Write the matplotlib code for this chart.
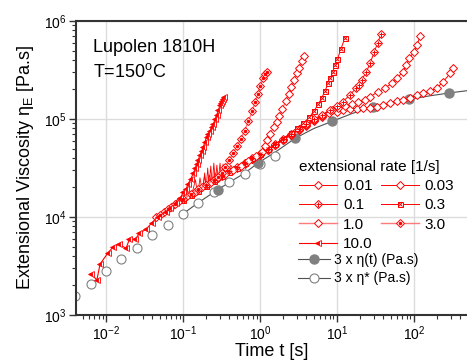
import numpy as np
import matplotlib.pyplot as plt
from matplotlib.lines import Line2D
from matplotlib.legend_handler import HandlerTuple

plt.rcParams['font.family'] = ['Liberation Sans', 'DejaVu Sans']
plt.rcParams['mathtext.fontset'] = 'custom'
plt.rcParams['mathtext.rm'] = 'Liberation Sans'
plt.rcParams['mathtext.it'] = 'Liberation Sans:italic'

# ---- data (t in s, eta in Pa.s) ----
t_001 = [0.631, 0.794, 1.0, 1.259, 1.585, 1.995, 2.512, 3.162, 3.981, 5.012, 6.31, 7.94, 9.91, 12.1,
         14.8, 18.0, 22.0, 26.9, 32.8, 39.9, 48.8, 59.6, 72.6, 88.7, 108, 132, 161, 197, 240, 294, 324]
e_001 = [34700, 38900, 43200, 47900, 53700, 61000, 68400, 76700, 85100, 94400, 105000, 114000, 119000, 124000,
         126000, 126000, 129000, 131000, 134000, 139000, 145000, 154000, 156000, 163000, 176000, 183000, 193000,
         206000, 240000, 292000, 329000]

t_003 = [0.501, 0.631, 0.794, 1.0, 1.259, 1.585, 1.995, 2.512, 3.162, 3.981, 5.012, 6.31, 8.53, 10.4, 12.7,
         15.5, 18.9, 23.1, 26.9, 34.4, 42.0, 51.3, 60.7, 71.3, 79.4, 86.9, 100, 109.6, 120.8]
e_003 = [31600, 35500, 39400, 43700, 48400, 54300, 61700, 69200, 77600, 87100, 97700, 108000, 124000, 129000,
         136000, 142000, 150000, 156000, 169000, 190000, 206000, 231000, 260000, 304000, 355000, 416000, 486000,
         575000, 708000]

t_01 = [0.2, 0.251, 0.316, 0.398, 0.501, 0.631, 0.794, 1.0, 1.259, 1.585, 1.995, 2.512, 3.162, 3.981, 5.012,
        6.31, 8.11, 9.91, 11.86, 14.76, 17.66, 19.5, 20.9, 24.0, 26.9, 30.5, 33.9, 37.2]
e_01 = [21400, 23700, 26300, 29200, 32400, 35900, 39800, 44200, 49500, 55600, 63100, 70800, 79400, 89100, 100000,
        110000, 124000, 136000, 150000, 176000, 206000, 224000, 250000, 302000, 370000, 486000, 603000, 736000]

t_03 = [0.1, 0.126, 0.158, 0.2, 0.251, 0.316, 0.398, 0.501, 0.631, 0.794, 1.0, 1.259, 1.585, 1.995, 2.512,
        3.02, 3.648, 4.365, 5.07, 5.69, 6.32, 7.0, 7.71, 8.22, 8.79, 9.44, 10.1, 11.2, 12.6]
e_03 = [14800, 16600, 18600, 20900, 23400, 26300, 28800, 31600, 35500, 39800, 43700, 49000, 55000, 63100, 72400,
        81300, 90400, 104000, 122000, 141000, 163000, 195000, 231000, 263000, 304000, 355000, 406000, 513000,
        665000]

t_1 = [0.0447, 0.0562, 0.0708, 0.0891, 0.112, 0.141, 0.178, 0.224, 0.282, 0.355, 0.447, 0.562, 0.708, 0.891,
       1.052, 1.148, 1.222, 1.349, 1.521, 1.641, 1.782, 1.95, 2.158, 2.344, 2.529, 2.754, 2.985, 3.206, 3.467,
       3.724]
e_1 = [10000, 11200, 12600, 14500, 16200, 18000, 20000, 22400, 25100, 27500, 30200, 33100, 37200, 41700, 45700,
       52500, 61100, 70800, 83400, 93300, 107000, 126000, 154000, 182000, 214000, 251000, 295000, 333000, 389000,
       443000]

t_3 = [0.0501, 0.0631, 0.0794, 0.1, 0.126, 0.158, 0.2, 0.251, 0.282, 0.316, 0.355, 0.398, 0.447, 0.501, 0.562,
       0.631, 0.708, 0.794, 0.861, 0.933, 1.01, 1.096, 1.175, 1.245]
e_3 = [10500, 12000, 13650, 15100, 17100, 19100, 21400, 24000, 25700, 28200, 32400, 38000, 44700, 52500, 63100,
       75900, 95500, 120000, 148000, 182000, 219000, 263000, 288000, 304000]

t_10 = [0.00638, 0.0076, 0.00836, 0.0105, 0.01245, 0.0146, 0.0182, 0.0201, 0.024, 0.0271, 0.0331, 0.0395, 0.0469,
        0.0601, 0.0678, 0.081, 0.0912, 0.101, 0.11, 0.117, 0.126, 0.136, 0.145, 0.151, 0.158, 0.166, 0.175, 0.184,
        0.193, 0.203, 0.214, 0.224, 0.235, 0.248, 0.261, 0.274, 0.288, 0.303, 0.313, 0.324, 0.334, 0.344]
e_10 = [2620, 2280, 3310, 4270, 4980, 5300, 4790, 5930, 5930, 6820, 7500, 8750, 10100, 11300, 12300, 13800, 15500,
        17800, 19500, 21900, 24500, 27900, 31600, 34700, 38500, 42700, 47300, 52100, 58900, 66100, 70800, 75900,
        82200, 89100, 98900, 110000, 123000, 139000, 146000, 153000, 160000, 166000]

# noisy start of the slow runs (line only)
t_noise_a = [0.182, 0.191, 0.200, 0.209, 0.219, 0.229, 0.240, 0.251, 0.263, 0.275, 0.288, 0.302, 0.316, 0.331,
             0.347, 0.363, 0.380, 0.417, 0.457, 0.525, 0.631]
e_noise_a = [20000, 28200, 19500, 31600, 20400, 33100, 21400, 35500, 22400, 33900, 23400, 35500, 25100, 34700,
             26300, 33100, 27500, 33900, 29500, 33900, 34700]
t_noise_b = [0.132, 0.145, 0.155, 0.166, 0.178, 0.19, 0.204, 0.219, 0.24, 0.26, 0.29, 0.33, 0.40, 0.50]
e_noise_b = [17800, 24000, 16600, 25100, 18200, 26300, 19100, 26900, 21400, 28200, 24000, 29500, 29500, 31600]

# 3 x eta(t) : smooth curve and marked points
t_shear_line = [0.1, 0.158, 0.251, 0.282, 0.398, 0.631, 0.955, 1.585, 2.85, 5.0, 8.69, 15.8, 29.1, 50, 86.1, 158,
                285, 490]
e_shear_line = [10800, 14000, 17900, 18900, 22600, 28000, 35800, 46000, 63500, 80000, 94800, 114000, 132600,
                147000, 158800, 172000, 184300, 194500]
t_shear = [0.282, 0.955, 2.85, 8.69, 29.1, 86.1, 285]
e_shear = [18900, 35800, 63500, 94800, 132600, 158800, 184300]

# 3 x eta* (open circles)
t_star = [0.00398, 0.00631, 0.01, 0.0158, 0.0251, 0.0398, 0.0631, 0.1, 0.158, 0.251, 0.398, 0.631, 1.0, 1.585]
e_star = [1560, 2090, 2790, 3700, 4860, 6500, 8340, 10800, 14000, 17900, 22600, 27700, 34500, 42300]

RED = '#ff0000'
PINK = '#ff7a7a'
GRAY = '#808080'

fig = plt.figure(figsize=(4.67, 3.63), dpi=100)
ax = fig.add_axes([76 / 467, 48 / 363, 391 / 467, 294 / 363])

# gray reference data
ax.plot(t_shear_line, e_shear_line, color='#505050', lw=0.8, zorder=2)
h_shear, = ax.plot(t_shear, e_shear, ls='none', marker='o', ms=6.5, mfc=GRAY, mec=GRAY, zorder=3)
h_star, = ax.plot(t_star, e_star, ls='none', marker='o', ms=6.5, mfc='white', mec=GRAY, mew=0.8, zorder=2)

# extensional data
ax.plot(t_noise_a, e_noise_a, color=RED, lw=0.6, zorder=4)
ax.plot(t_noise_b, e_noise_b, color=RED, lw=0.6, zorder=4)

mk = dict(ms=3.6, mew=0.7, zorder=5)
h001, = ax.plot(t_001, e_001, color=RED, lw=0.7, marker='D', mfc='white', mec=RED, **mk)
h003, = ax.plot(t_003, e_003, color=RED, lw=0.7, marker='D', mfc='white', mec=RED, **mk)
h01, = ax.plot(t_01, e_01, color=RED, lw=0.7, marker='D', mfc='white', mec=RED, **mk)
h01b, = ax.plot(t_01, e_01, ls='none', marker='+', color=RED, ms=3.6, mew=0.7, zorder=6)
h03, = ax.plot(t_03, e_03, color=RED, lw=0.7, marker='s', mfc='white', mec=RED, **mk)
h03b, = ax.plot(t_03, e_03, ls='none', marker='x', color=RED, ms=3.2, mew=0.7, zorder=6)
h1, = ax.plot(t_1, e_1, color=PINK, lw=1.0, marker='D', mfc='white', mec=RED, **mk)
h3, = ax.plot(t_3, e_3, color=PINK, lw=1.0, marker='D', mfc='white', mec=RED, **mk)
h3b, = ax.plot(t_3, e_3, ls='none', marker='.', color=RED, ms=3, zorder=6)
h10, = ax.plot(t_10, e_10, color=RED, lw=0.8, marker='<', fillstyle='left', mfc=RED, mfcalt='white',
               mec=RED, ms=4.2, mew=0.6, zorder=5)

ax.set_xscale('log')
ax.set_yscale('log')
ax.set_xlim(0.00407, 488)
ax.set_ylim(1e3, 1e6)

ax.grid(True, which='major', color='#dcdcdc', lw=1.0, zorder=0)
ax.set_axisbelow(True)
for side in ['left', 'bottom', 'top']:
    ax.spines[side].set_color('#333333')
    ax.spines[side].set_linewidth(1.5)
ax.spines['right'].set_visible(False)
ax.tick_params(which='major', direction='out', length=5, width=1.0, color='#333333', labelsize=10, pad=1.5)
ax.tick_params(which='minor', direction='out', length=3, width=0.8, color='#333333')
ax.tick_params(top=False, right=False, which='both')

ax.set_xlabel('Time t [s]', fontsize=13, labelpad=0)
ax.set_ylabel('Extensional Viscosity η$_\\mathregular{E}$ [Pa.s]', fontsize=13, labelpad=6)

ax.text(0.044, 0.895, 'Lupolen 1810H', transform=ax.transAxes, fontsize=13, va='baseline')
ax.text(0.044, 0.81, 'T=150$^\\mathregular{o}$C', transform=ax.transAxes, fontsize=13, va='baseline')

# legend for the extensional rates
rate_handles = [h001, (h01, h01b), h1, h10, h003, (h03, h03b), (h3, h3b)]
rate_labels = ['0.01', '0.1', '1.0', '10.0', '0.03', '0.3', '3.0']
leg1 = ax.legend(rate_handles, rate_labels, ncol=2, title='extensional rate [1/s]', fontsize=11,
                 title_fontsize=11, loc='upper left', bbox_to_anchor=(0.535, 0.575), frameon=False,
                 handlelength=2.5, handletextpad=0.4, columnspacing=0.5, labelspacing=0.35,
                 alignment='left', handler_map={tuple: HandlerTuple(ndivide=1, pad=0)})
ax.add_artist(leg1)

p_shear = Line2D([], [], color='#505050', lw=0.8, marker='o', ms=6.5, mfc=GRAY, mec=GRAY)
p_star = Line2D([], [], color='#505050', lw=0.8, marker='o', ms=6.5, mfc='white', mec=GRAY, mew=0.8)
ax.legend([p_shear, p_star], ['3 x η(t) (Pa.s)', '3 x η* (Pa.s)'], fontsize=10, loc='upper left',
          bbox_to_anchor=(0.535, 0.255), frameon=False, handlelength=2.3, handletextpad=0.3, labelspacing=0.35)

fig.savefig('out.png', dpi=100)
